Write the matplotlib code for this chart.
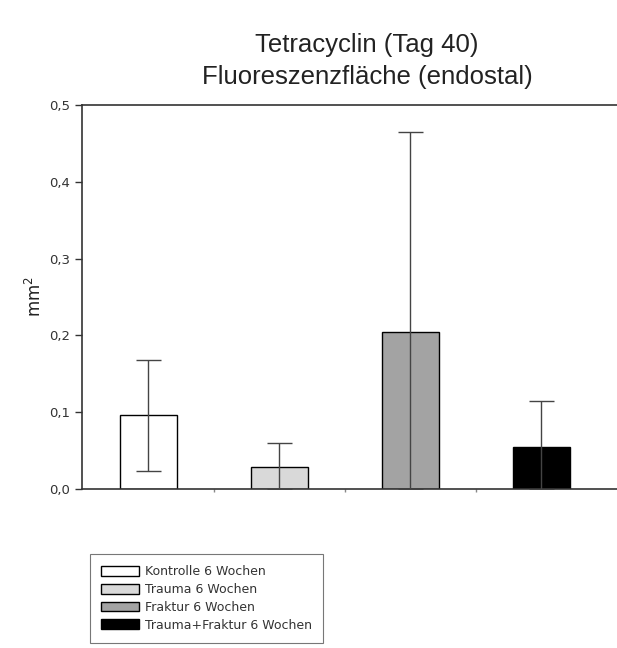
# Tetracyclin (Tag 40) - Fluoreszenzflaeche endostal, Balken mit SD

import matplotlib
matplotlib.use("Agg")
import matplotlib.pyplot as plt

groups = [
    "Kontrolle 6 Wochen",
    "Trauma 6 Wochen",
    "Fraktur 6 Wochen",
    "Trauma+Fraktur 6 Wochen",
]
means = [0.096, 0.028, 0.205, 0.055]
sds = [0.072, 0.032, 0.260, 0.060]
bar_colors = ["white", "#d9d9d9", "#a3a3a3", "black"]

y_ticks = [0.0, 0.1, 0.2, 0.3, 0.4, 0.5]
y_ticklabels = ["0,0", "0,1", "0,2", "0,3", "0,4", "0,5"]


def plot_chart():
    fig = plt.figure(figsize=(6.17, 6.48), dpi=100)
    ax = fig.add_axes([0.133, 0.2454, 0.867, 0.5926])

    x = list(range(len(means)))
    bars = ax.bar(
        x,
        means,
        width=0.435,
        color=bar_colors,
        edgecolor="black",
        linewidth=1.0,
        zorder=2,
    )

    # lower error clipped at zero like in the original
    lower = [min(s, m) for m, s in zip(means, sds)]
    ax.errorbar(
        x,
        means,
        yerr=[lower, sds],
        fmt="none",
        ecolor="#444444",
        elinewidth=1.0,
        capsize=9,
        capthick=1.0,
        zorder=3,
    )

    ax.set_ylim(0, 0.5)
    ax.set_xlim(-0.504, 3.58)
    ax.set_yticks(y_ticks)
    ax.set_yticklabels(y_ticklabels, fontsize=9.5, color="#333333")
    ax.set_xticks([0.5, 1.5, 2.5])
    ax.set_xticklabels([])
    ax.tick_params(axis="y", direction="out", length=5, width=1, colors="#333333",
                   labelcolor="#333333")
    ax.tick_params(axis="x", direction="out", length=2, width=1, colors="#888888")
    ax.spines["right"].set_visible(False)
    for s in ["left", "top", "bottom"]:
        ax.spines[s].set_linewidth(1.2)
        ax.spines[s].set_color("#333333")

    ax.set_ylabel("mm$^2$", fontsize=12, color="#222222", labelpad=3)

    fig.text(0.595, 0.930, "Tetracyclin (Tag 40)", ha="center", va="center",
             fontsize=18.5, family="Liberation Sans", color="#222222")
    fig.text(0.595, 0.881, "Fluoreszenzfläche (endostal)", ha="center", va="center",
             fontsize=18.5, family="Liberation Sans", color="#222222")

    leg = fig.legend(
        handles=bars,
        labels=groups,
        loc="lower left",
        bbox_to_anchor=(0.146, 0.008),
        bbox_transform=fig.transFigure,
        fontsize=9,
        frameon=True,
        fancybox=False,
        edgecolor="#555555",
        handlelength=3.0,
        handleheight=0.8,
        labelspacing=0.38,
        borderpad=0.9,
        handletextpad=0.5,
        borderaxespad=0,
    )
    leg.get_frame().set_linewidth(0.8)
    for t in leg.get_texts():
        t.set_color("#333333")

    fig.savefig("out.png", dpi=100)


if __name__ == "__main__":
    plot_chart()
